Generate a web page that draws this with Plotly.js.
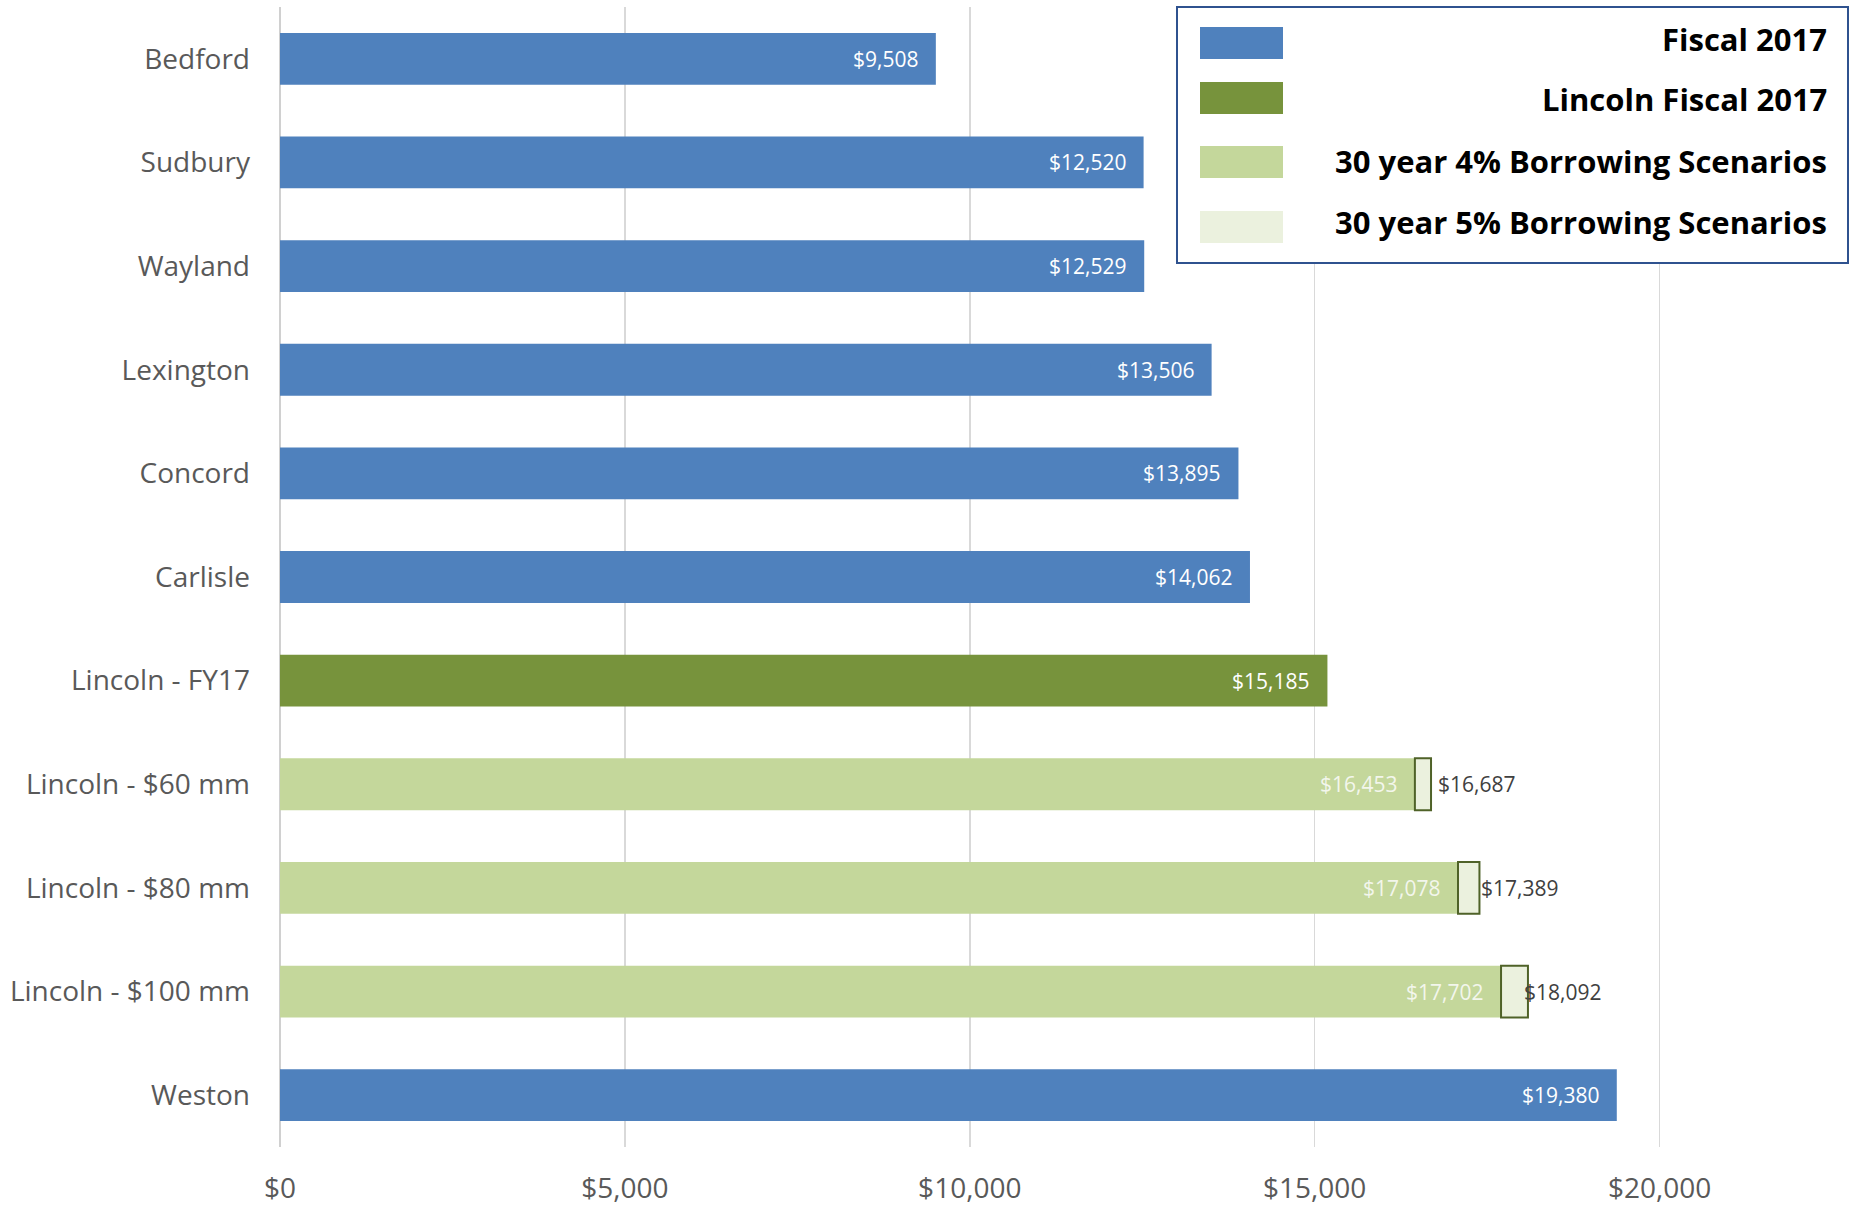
<!DOCTYPE html>
<html>
<head>
<meta charset="utf-8">
<script src="https://cdn.plot.ly/plotly-3.0.1.min.js"></script>
<style>
  html, body { margin: 0; padding: 0; background: #ffffff; }
  #chart { width: 1860px; height: 1207px; }
</style>
</head>
<body>
<div id="chart"></div>
<script>
// ---------- Data ----------
const categories = ["Bedford", "Sudbury", "Wayland", "Lexington", "Concord", "Carlisle",
  "Lincoln - FY17", "Lincoln - $60 mm", "Lincoln - $80 mm", "Lincoln - $100 mm", "Weston"];

const fiscalTowns = ["Bedford", "Sudbury", "Wayland", "Lexington", "Concord", "Carlisle", "Weston"];
const fiscalValues = [9508, 12520, 12529, 13506, 13895, 14062, 19380];

const lincolnCats = ["Lincoln - FY17"];
const lincolnValues = [15185];

const scenarioCats = ["Lincoln - $60 mm", "Lincoln - $80 mm", "Lincoln - $100 mm"];
const borrow4Values = [16453, 17078, 17702];
const borrow5Values = [16687, 17389, 18092];

const seriesNames = ["Fiscal 2017", "Lincoln Fiscal 2017",
  "30 year 4% Borrowing Scenarios", "30 year 5% Borrowing Scenarios"];

const xTickValues = [0, 5000, 10000, 15000, 20000];
const xTickLabels = ["$0", "$5,000", "$10,000", "$15,000", "$20,000"];

// ---------- Styles ----------
const colors = ["#4F81BD", "#77933C", "#C4D79B", "#EBF1DE"];
const borderGreen = "#4F6228";
const FONT = "Open Sans, Noto Sans, Arial, sans-serif";
const fmt = v => "$" + v.toLocaleString("en-US");

const W = 1860, H = 1207;
const M = { l: 280, r: 28, t: 7, b: 60 };
const PW = W - M.l - M.r, PH = H - M.t - M.b;
const px2x = px => (px - M.l) / PW;
const py2y = py => (H - M.b - py) / PH;

// ---------- Traces ----------
const traces = [
  { type: "bar", orientation: "h", name: seriesNames[0], y: fiscalTowns, x: fiscalValues,
    marker: { color: colors[0] }, hoverinfo: "x+y" },
  { type: "bar", orientation: "h", name: seriesNames[1], y: lincolnCats, x: lincolnValues,
    marker: { color: colors[1] }, hoverinfo: "x+y" },
  { type: "bar", orientation: "h", name: seriesNames[2], y: scenarioCats, x: borrow4Values,
    marker: { color: colors[2] }, hoverinfo: "x+y" },
  { type: "bar", orientation: "h", name: seriesNames[3], y: scenarioCats,
    base: borrow4Values, x: borrow5Values.map((v, i) => v - borrow4Values[i]),
    marker: { color: colors[3], line: { color: borderGreen, width: 2 } }, hoverinfo: "y" }
];

// ---------- Annotations (data labels) ----------
const annotations = [];
const inside = (xs, ys, col) => xs.forEach((v, i) => annotations.push({
  xref: "x", yref: "y", x: v, y: ys[i], text: fmt(v), showarrow: false,
  xanchor: "right", yanchor: "middle", xshift: -16,
  font: { family: FONT, size: 21, color: col }
}));
inside(fiscalValues, fiscalTowns, "#FFFFFF");
inside(lincolnValues, lincolnCats, "#FFFFFF");
inside(borrow4Values, scenarioCats, "#F3F6EC");
borrow5Values.forEach((v, i) => annotations.push({
  xref: "x", yref: "y", x: borrow4Values[i], y: scenarioCats[i], text: fmt(v), showarrow: false,
  xanchor: "left", yanchor: "middle", xshift: 21,
  font: { family: FONT, size: 21, color: "#404040" }
}));

// ---------- Custom legend ----------
const shapes = [{
  type: "rect", xref: "paper", yref: "paper", layer: "above",
  x0: px2x(1177), x1: px2x(1848), y0: py2y(263), y1: py2y(7),
  fillcolor: "#FFFFFF", line: { color: "#2F528F", width: 2 }
}];
const swatchCenters = [43, 98, 162, 227];
const textCenters = [39, 99, 161, 222];
seriesNames.forEach((name, i) => {
  const cy = swatchCenters[i];
  shapes.push({
    type: "rect", xref: "paper", yref: "paper", layer: "above",
    x0: px2x(1200), x1: px2x(1283), y0: py2y(cy + 16), y1: py2y(cy - 16),
    fillcolor: colors[i], line: { width: 0 }
  });
  annotations.push({
    xref: "paper", yref: "paper", x: px2x(1829), y: py2y(textCenters[i]), text: "<b>" + name + "</b>",
    showarrow: false, xanchor: "right", yanchor: "middle",
    font: { family: FONT, size: 31, color: "#000000" }
  });
});

// ---------- Layout ----------
const layout = {
  width: W, height: H,
  margin: M,
  paper_bgcolor: "#FFFFFF", plot_bgcolor: "#FFFFFF",
  barmode: "overlay", bargap: 0.5,
  showlegend: false,
  font: { family: FONT, color: "#595959" },
  xaxis: {
    range: [0, 22500], tickvals: xTickValues, ticktext: xTickLabels,
    showgrid: true, gridcolor: "#D9D9D9", gridwidth: 1.5,
    zeroline: true, zerolinecolor: "#D0D0D0", zerolinewidth: 2.5,
    showline: false, ticks: "", ticklabelstandoff: 22,
    tickfont: { family: FONT, size: 28, color: "#595959" }, fixedrange: true
  },
  yaxis: {
    type: "category", categoryorder: "array", categoryarray: categories,
    autorange: "reversed", showgrid: false, zeroline: false, showline: false,
    ticks: "", ticklabelstandoff: 29,
    tickfont: { family: FONT, size: 28, color: "#595959" }, fixedrange: true
  },
  shapes: shapes,
  annotations: annotations
};

Plotly.newPlot("chart", traces, layout, { displayModeBar: false, staticPlot: true });
</script>
</body>
</html>
